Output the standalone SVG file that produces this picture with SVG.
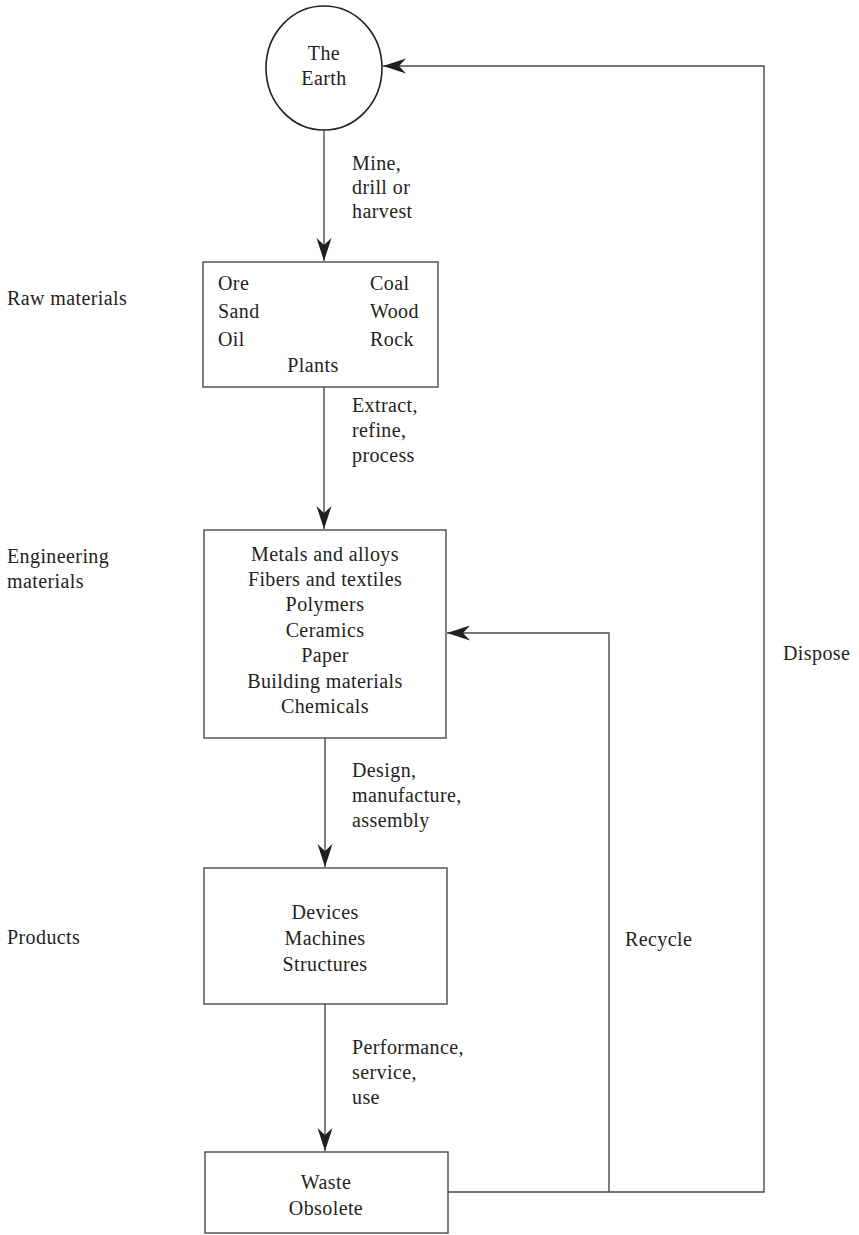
<svg xmlns="http://www.w3.org/2000/svg" width="859" height="1235" viewBox="0 0 859 1235">
<style>
text{font-family:"Liberation Serif","Times New Roman",serif;font-size:20px;fill:#231f20;letter-spacing:0.4px}
.c{text-anchor:middle}
.box{fill:#fff;stroke:#4a4a4a;stroke-width:1.4}
.ln{fill:none;stroke:#4a4a4a;stroke-width:1.4}
</style>
<defs>
<marker id="ah" markerUnits="userSpaceOnUse" markerWidth="26" markerHeight="18" viewBox="-24 -9 26 18" refX="0" refY="0" orient="auto">
<path d="M0,0 L-23,-7.5 L-16,0 L-23,7.5 Z" fill="#231f20"/>
</marker>
</defs>
<g id="connectors">
<line class="ln" x1="324" y1="131" x2="324" y2="261" marker-end="url(#ah)"/>
<line class="ln" x1="324" y1="387" x2="324" y2="529" marker-end="url(#ah)"/>
<line class="ln" x1="325" y1="738" x2="325" y2="867" marker-end="url(#ah)"/>
<line class="ln" x1="325" y1="1004" x2="325" y2="1151" marker-end="url(#ah)"/>
<polyline class="ln" points="448,1192 764,1192 764,66 383,66" marker-end="url(#ah)"/>
<polyline class="ln" points="609,1192 609,633 447,633" marker-end="url(#ah)"/>
<text x="352" y="170">Mine,</text>
<text x="352" y="194">drill or</text>
<text x="352" y="218">harvest</text>
<text x="352" y="412">Extract,</text>
<text x="352" y="437">refine,</text>
<text x="352" y="462">process</text>
<text x="352" y="777">Design,</text>
<text x="352" y="802">manufacture,</text>
<text x="352" y="827">assembly</text>
<text x="352" y="1054">Performance,</text>
<text x="352" y="1079">service,</text>
<text x="352" y="1104">use</text>
<text x="625" y="946">Recycle</text>
<text x="783" y="660">Dispose</text>
</g>
<g id="earth">
<ellipse cx="324" cy="68" rx="58" ry="62" fill="#fff" stroke="#231f20" stroke-width="1.6"/>
<text class="c" x="324" y="60">The</text>
<text class="c" x="324" y="85">Earth</text>
</g>
<g id="raw">
<rect class="box" x="203" y="262" width="235" height="125"/>
<text x="218" y="290">Ore</text>
<text x="218" y="318">Sand</text>
<text x="218" y="346">Oil</text>
<text x="370" y="290">Coal</text>
<text x="370" y="318">Wood</text>
<text x="370" y="346">Rock</text>
<text class="c" x="313" y="372">Plants</text>
</g>
<g id="engineering">
<rect class="box" x="204" y="530" width="242" height="208"/>
<text class="c" x="325" y="561">Metals and alloys</text>
<text class="c" x="325" y="586">Fibers and textiles</text>
<text class="c" x="325" y="611">Polymers</text>
<text class="c" x="325" y="637">Ceramics</text>
<text class="c" x="325" y="662">Paper</text>
<text class="c" x="325" y="688">Building materials</text>
<text class="c" x="325" y="713">Chemicals</text>
</g>
<g id="products">
<rect class="box" x="204" y="868" width="243" height="136"/>
<text class="c" x="325" y="919">Devices</text>
<text class="c" x="325" y="945">Machines</text>
<text class="c" x="325" y="971">Structures</text>
</g>
<g id="waste">
<rect class="box" x="205" y="1152" width="243" height="81"/>
<text class="c" x="326" y="1189">Waste</text>
<text class="c" x="326" y="1215">Obsolete</text>
</g>
<g id="labels">
<text x="7" y="305">Raw materials</text>
<text x="7" y="563">Engineering</text>
<text x="7" y="588">materials</text>
<text x="7" y="944">Products</text>
</g>
</svg>
